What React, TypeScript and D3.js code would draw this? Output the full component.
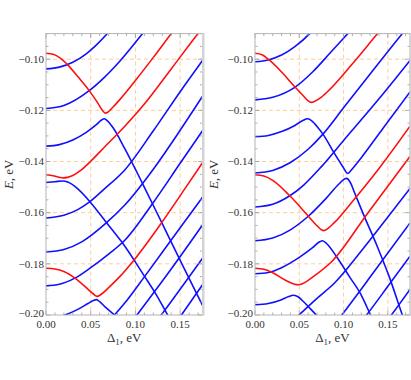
import * as d3 from 'd3';

// axis ticks
const xTickValues = [0, 0.05, 0.1, 0.15];
const xTickLabels = ['0.00', '0.05', '0.10', '0.15'];
const yTickValues = [-0.2, -0.18, -0.16, -0.14, -0.12, -0.1];
const yTickLabels = ['\u22120.20', '\u22120.18', '\u22120.16', '\u22120.14', '\u22120.12', '\u22120.10'];
const xGrid = [0.05, 0.1, 0.15];
const yGrid = [-0.18, -0.16, -0.14, -0.12, -0.1];

// left panel: [Δ1, E]
const leftBlueA = [[0, -0.1038], [0.015, -0.1031], [0.03, -0.1012], [0.045, -0.0979], [0.055, -0.0949], [0.0686, -0.09], [0.075, -0.0873]];
const leftBlueB = [[0, -0.1193], [0.02, -0.1181], [0.0483, -0.1123], [0.065, -0.1072], [0.0825, -0.1008], [0.1081, -0.09], [0.115, -0.0871]];
const leftRed1 = [[0, -0.0977], [0.008, -0.0981], [0.016, -0.0996], [0.0245, -0.1023], [0.036, -0.107], [0.0483, -0.1123], [0.058, -0.1172], [0.063, -0.12], [0.0663, -0.1211], [0.0695, -0.1206], [0.075, -0.1187], [0.0825, -0.1158], [0.1, -0.1083], [0.1205, -0.0991], [0.1401, -0.09], [0.146, -0.0873]];
const leftBlue3 = [[0, -0.134], [0.015, -0.1334], [0.03, -0.1316], [0.045, -0.1286], [0.056, -0.1257], [0.0625, -0.1237], [0.0652, -0.1233], [0.068, -0.1239], [0.075, -0.1268], [0.0881, -0.135], [0.1085, -0.149], [0.13, -0.1643], [0.155, -0.1822], [0.175, -0.1962]];
const leftRed2 = [[0, -0.1452], [0.008, -0.1456], [0.015, -0.1462], [0.0193, -0.1464], [0.024, -0.1462], [0.03, -0.1455], [0.038, -0.1437], [0.05, -0.1399], [0.065, -0.1345], [0.0881, -0.1262], [0.11, -0.1175], [0.14, -0.1038], [0.17, -0.09], [0.176, -0.0873]];
const leftBlue4 = [[0, -0.1482], [0.01, -0.1479], [0.018, -0.1476], [0.025, -0.1481], [0.035, -0.1505], [0.0491, -0.1557], [0.0677, -0.1639], [0.0844, -0.1713], [0.1104, -0.185], [0.1234, -0.1921], [0.136, -0.2], [0.14, -0.2025]];
const leftBlue5 = [[0, -0.1621], [0.02, -0.161], [0.035, -0.1589], [0.0491, -0.1557], [0.065, -0.1508], [0.0881, -0.1433], [0.12, -0.128], [0.15, -0.1127], [0.175, -0.1005]];
const leftBlue6 = [[0, -0.1754], [0.02, -0.1744], [0.04, -0.1714], [0.0677, -0.1639], [0.0881, -0.157], [0.12, -0.143], [0.15, -0.1278], [0.175, -0.1145]];
const leftBlue7 = [[0, -0.1886], [0.015, -0.188], [0.0323, -0.1856], [0.05, -0.1815], [0.07, -0.1762], [0.0881, -0.1708], [0.12, -0.156], [0.15, -0.1407], [0.175, -0.128]];
const leftRed3 = [[0, -0.1817], [0.01, -0.182], [0.02, -0.183], [0.0323, -0.1856], [0.045, -0.1893], [0.053, -0.1918], [0.0572, -0.1927], [0.061, -0.1921], [0.07, -0.1893], [0.0825, -0.185], [0.0992, -0.1782], [0.129, -0.1641], [0.155, -0.1508], [0.175, -0.1405]];
const leftBlue8 = [[0, -0.2016], [0.0212, -0.2], [0.035, -0.1979], [0.047, -0.1955], [0.053, -0.1943], [0.0565, -0.194], [0.06, -0.1948], [0.066, -0.1968], [0.0765, -0.2], [0.08, -0.2012]];
const leftRise1 = [[0.073, -0.2012], [0.0765, -0.2], [0.09, -0.1945], [0.11, -0.1851], [0.14, -0.1707], [0.175, -0.154]];
const leftRise2 = [[0.097, -0.2022], [0.1017, -0.2], [0.14, -0.182], [0.175, -0.1648]];
const leftRise3 = [[0.124, -0.2022], [0.1288, -0.2], [0.15, -0.1899], [0.175, -0.1778]];
const leftRise4 = [[0.147, -0.2022], [0.1514, -0.2], [0.175, -0.1882]];

// right panel
const rightBlueA = [[0, -0.101], [0.015, -0.1003], [0.03, -0.0984], [0.045, -0.0951], [0.0617, -0.09], [0.068, -0.0875]];
const rightRed1 = [[0, -0.0977], [0.008, -0.0983], [0.015, -0.1], [0.03, -0.105], [0.0449, -0.1108], [0.055, -0.1145], [0.0605, -0.1164], [0.0636, -0.1169], [0.067, -0.1165], [0.075, -0.1148], [0.0842, -0.1119], [0.11, -0.1018], [0.1384, -0.09], [0.145, -0.0873]];
const rightBlueB = [[0, -0.1159], [0.02, -0.1149], [0.0449, -0.111], [0.065, -0.105], [0.0842, -0.0978], [0.1047, -0.09], [0.111, -0.0876]];
const rightBlue3 = [[0, -0.1303], [0.015, -0.1298], [0.03, -0.1283], [0.045, -0.1259], [0.054, -0.124], [0.059, -0.1233], [0.063, -0.1238], [0.07, -0.1263], [0.0767, -0.1293], [0.09, -0.137], [0.1, -0.1425], [0.1035, -0.1444], [0.1047, -0.1447], [0.106, -0.1444], [0.11, -0.1428], [0.12, -0.1385], [0.145, -0.1268], [0.175, -0.1128]];
const rightBlue4 = [[0, -0.1445], [0.02, -0.1435], [0.04, -0.1404], [0.06, -0.1352], [0.0767, -0.1293], [0.1, -0.119], [0.13, -0.1058], [0.1664, -0.09], [0.173, -0.0872]];
const rightRed2 = [[0, -0.1452], [0.01, -0.1457], [0.02, -0.1474], [0.0393, -0.1534], [0.0598, -0.1612], [0.07, -0.1651], [0.0755, -0.1668], [0.0774, -0.167], [0.08, -0.1667], [0.0898, -0.1638], [0.11, -0.1556], [0.14, -0.1427], [0.175, -0.1262]];
const rightBlue5 = [[0, -0.1578], [0.02, -0.1567], [0.0393, -0.1534], [0.055, -0.1492], [0.075, -0.142], [0.1, -0.1318], [0.14, -0.1155], [0.175, -0.1005]];
const rightBlue6 = [[0, -0.171], [0.02, -0.1699], [0.04, -0.1667], [0.0598, -0.1615], [0.08, -0.1545], [0.095, -0.1487], [0.101, -0.1468], [0.1035, -0.1466], [0.107, -0.1478], [0.113, -0.1527], [0.1216, -0.16], [0.1384, -0.1735], [0.1515, -0.185], [0.1664, -0.2], [0.17, -0.2035]];
const rightRed3 = [[0, -0.1817], [0.01, -0.1821], [0.02, -0.1835], [0.035, -0.1865], [0.0445, -0.188], [0.049, -0.1882], [0.054, -0.1877], [0.065, -0.1852], [0.087, -0.179], [0.1272, -0.1602], [0.175, -0.138]];
const rightBlue7 = [[0, -0.1839], [0.015, -0.1834], [0.03, -0.1815], [0.05, -0.1775], [0.065, -0.1737], [0.073, -0.1714], [0.076, -0.171], [0.08, -0.1718], [0.0917, -0.177], [0.1066, -0.185], [0.1198, -0.1921], [0.1305, -0.2], [0.134, -0.2025]];
const rightBlue8 = [[0, -0.196], [0.015, -0.1955], [0.03, -0.194], [0.038, -0.1928], [0.043, -0.1923], [0.048, -0.1928], [0.056, -0.1952], [0.0692, -0.2], [0.073, -0.2013]];
const rightRise1 = [[0.046, -0.2012], [0.0497, -0.2], [0.07, -0.1935], [0.0898, -0.1875], [0.12, -0.175], [0.15, -0.1617], [0.175, -0.1505]];
const rightRise2 = [[0.094, -0.2018], [0.098, -0.2], [0.135, -0.1828], [0.175, -0.164]];
const rightRise3 = [[0.122, -0.2018], [0.126, -0.2], [0.15, -0.1888], [0.175, -0.177]];
const rightRise4 = [[0.15, -0.2018], [0.154, -0.2], [0.175, -0.19]];

const BLUE = '#1010ff';
const RED = '#ff1010';

const leftCurves = [
  { d: leftBlueA, c: BLUE }, { d: leftBlueB, c: BLUE }, { d: leftBlue3, c: BLUE }, { d: leftBlue4, c: BLUE },
  { d: leftBlue5, c: BLUE }, { d: leftBlue6, c: BLUE }, { d: leftBlue7, c: BLUE }, { d: leftBlue8, c: BLUE },
  { d: leftRise1, c: BLUE }, { d: leftRise2, c: BLUE }, { d: leftRise3, c: BLUE }, { d: leftRise4, c: BLUE },
  { d: leftRed1, c: RED }, { d: leftRed2, c: RED }, { d: leftRed3, c: RED },
];
const rightCurves = [
  { d: rightBlueA, c: BLUE }, { d: rightBlueB, c: BLUE }, { d: rightBlue3, c: BLUE }, { d: rightBlue4, c: BLUE },
  { d: rightBlue5, c: BLUE }, { d: rightBlue6, c: BLUE }, { d: rightBlue7, c: BLUE }, { d: rightBlue8, c: BLUE },
  { d: rightRise1, c: BLUE }, { d: rightRise2, c: BLUE }, { d: rightRise3, c: BLUE }, { d: rightRise4, c: BLUE },
  { d: rightRed1, c: RED }, { d: rightRed2, c: RED }, { d: rightRed3, c: RED },
];

const TOP = 33.6;
const BOTTOM = 315;
const FONT = '"Liberation Serif", "DejaVu Serif", serif';

function Panel({ id, x0, x1, curves, yLabelX }: any) {
  const xs = d3.scaleLinear().domain([0, 0.175]).range([x0, x1]);
  const ys = d3.scaleLinear().domain([-0.2, -0.09]).range([BOTTOM, TOP]);
  const line = d3.line<number[]>().x(d => xs(d[0])).y(d => ys(d[1])).curve(d3.curveMonotoneX);
  const minorX = d3.range(0, 18).map(i => i * 0.01);
  const minorY = d3.range(0, 23).map(i => -0.2 + i * 0.005);
  const isMajorX = (v: number) => Math.abs(v / 0.05 - Math.round(v / 0.05)) < 1e-6;
  const isMajorY = (v: number) => Math.abs(v / 0.02 - Math.round(v / 0.02)) < 1e-6;
  const tickCol = '#9a9a9a';
  return (
    <g>
      <defs>
        <clipPath id={id}>
          <rect x={x0} y={TOP} width={x1 - x0} height={BOTTOM - TOP} />
        </clipPath>
      </defs>
      <rect x={x0} y={TOP} width={x1 - x0} height={BOTTOM - TOP} fill="#fff" />
      {xGrid.map(v => (
        <line key={'gx' + v} x1={xs(v)} x2={xs(v)} y1={TOP} y2={BOTTOM} stroke="#fbcf9c" strokeWidth={1} strokeDasharray="4,3" />
      ))}
      {yGrid.map(v => (
        <line key={'gy' + v} x1={x0} x2={x1} y1={ys(v)} y2={ys(v)} stroke="#fbcf9c" strokeWidth={1} strokeDasharray="4,3" />
      ))}
      <g clipPath={`url(#${id})`}>
        {curves.map((cv: any, i: number) => (
          <path key={i} d={line(cv.d) || ''} fill="none" stroke={cv.c} strokeWidth={1.6} />
        ))}
      </g>
      {/* frame ticks, inward on all four sides */}
      {minorX.map(v => {
        const len = isMajorX(v) ? 4.5 : 2.5;
        return (
          <g key={'tx' + v}>
            <line x1={xs(v)} x2={xs(v)} y1={BOTTOM} y2={BOTTOM - len} stroke={tickCol} strokeWidth={0.8} />
            <line x1={xs(v)} x2={xs(v)} y1={TOP} y2={TOP + len} stroke={tickCol} strokeWidth={0.8} />
          </g>
        );
      })}
      {minorY.map(v => {
        const len = isMajorY(v) ? 4.5 : 2.5;
        return (
          <g key={'ty' + v}>
            <line x1={x0} x2={x0 + len} y1={ys(v)} y2={ys(v)} stroke={tickCol} strokeWidth={0.8} />
            <line x1={x1} x2={x1 - len} y1={ys(v)} y2={ys(v)} stroke={tickCol} strokeWidth={0.8} />
          </g>
        );
      })}
      <rect x={x0} y={TOP} width={x1 - x0} height={BOTTOM - TOP} fill="none" stroke="#b4b4b4" strokeWidth={1} />
      <rect x={x1 - 0.5} y={TOP - 0.5} width={2.5} height={BOTTOM - TOP + 1} fill="#d4d4d4" />
      {xTickValues.map((v, i) => (
        <text key={'lx' + v} x={xs(v)} y={BOTTOM + 13} textAnchor="middle" fontFamily={FONT} fontSize={11} fill="#333">
          {xTickLabels[i]}
        </text>
      ))}
      {yTickValues.map((v, i) => (
        <text key={'ly' + v} x={x0 - 2} y={ys(v) + (i === 0 ? 2 : 3.8)} textAnchor="end" fontFamily={FONT} fontSize={11} fill="#333">
          {yTickLabels[i]}
        </text>
      ))}
      <text x={(x0 + x1) / 2} y={342} textAnchor="middle" fontFamily={FONT} fontSize={13} fill="#333">
        {'\u0394'}
        <tspan fontSize={9} dy={3}>1</tspan>
        <tspan dy={-3}>, eV</tspan>
      </text>
      <text transform={`translate(${yLabelX},${(TOP + BOTTOM) / 2}) rotate(-90)`} textAnchor="middle" fontFamily={FONT} fontSize={13} fill="#333">
        <tspan fontStyle="italic">E</tspan>, eV
      </text>
    </g>
  );
}

export default function App() {
  return (
    <svg width={411} height={380} style={{ position: 'absolute', left: 0, top: 0, background: '#fff' }}>
      <Panel id="clipL" x0={46} x1={202.5} curves={leftCurves} yLabelX={13} />
      <Panel id="clipR" x0={255} x1={410} curves={rightCurves} yLabelX={218} />
    </svg>
  );
}
